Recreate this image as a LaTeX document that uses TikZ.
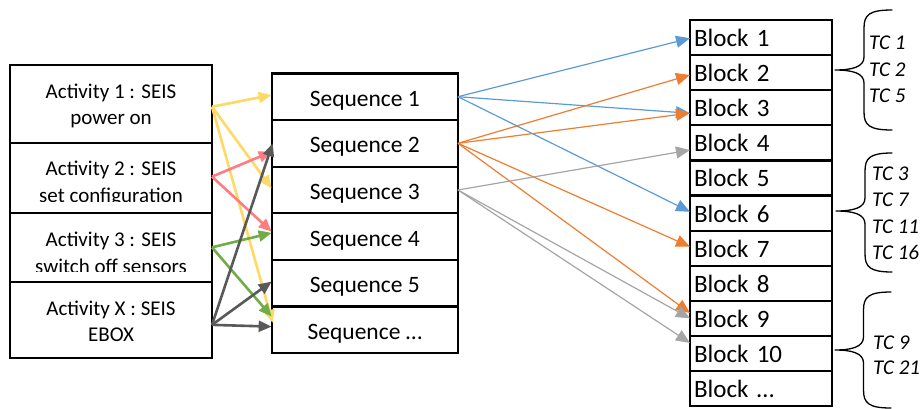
\documentclass[tikz,border=0pt]{standalone}
\usepackage{fontspec}
\setmainfont{Carlito}
\usetikzlibrary{arrows.meta,calc}
\definecolor{cyel}{HTML}{FFD966}
\definecolor{cred}{HTML}{FF7C80}
\definecolor{cgrn}{HTML}{70AD47}
\definecolor{cdgr}{HTML}{595959}
\definecolor{cblu}{HTML}{5B9BD5}
\definecolor{cora}{HTML}{ED7D31}
\definecolor{cgry}{HTML}{A5A5A5}
\newcommand{\mybrace}[6]{%
  \draw[bracestyle] (#1,#4) .. controls (#2+5,#4) and (#2,#4+5) .. (#2,#4+18)
    -- (#2,#5-13) .. controls (#2,#5-3) and (#2-12,#5) .. (#3,#5)
    .. controls (#2-12,#5) and (#2,#5+3) .. (#2,#5+13)
    -- (#2,#6-18) .. controls (#2,#6-5) and (#2+5,#6) .. (#1,#6);}
\tikzset{
  actbox/.style={draw, line width=2.2pt, minimum width=202pt, inner sep=0pt, outer sep=0pt},
  acttext/.style={align=center, font=\fontsize{21}{26.5}\selectfont, inner sep=0pt},
  seqbox/.style={draw, line width=2.2pt, minimum width=186.3pt, minimum height=46.6pt, inner sep=0pt, outer sep=0pt, text height=19pt, text depth=0pt, font=\fontsize{23.5}{26}\selectfont},
  blkbox/.style={draw, line width=2.2pt, minimum height=35.1pt, text width=134pt, align=left, inner xsep=4pt, inner ysep=0pt, outer sep=0pt, text height=18pt, text depth=0pt, font=\fontsize{25}{28}\selectfont},
  fatarrow/.style={line width=2.6pt, -{Triangle[length=13pt,width=11pt]}},
  thinarrow/.style={line width=1.2pt, -{Triangle[length=14pt,width=12pt]}},
  tclabel/.style={anchor=west, inner sep=0pt, font=\fontsize{21}{22}\selectfont\itshape},
  bracestyle/.style={line width=1.3pt, line cap=round, line join=round}
}
\begin{document}
\begin{tikzpicture}[x=1pt,y=-1pt]
\useasboundingbox (0,0) rectangle (920,408);
% Activity boxes
\node[actbox, minimum height=78pt] (a1) at (111,104) {};
\node[actbox, minimum height=70pt] (a2) at (111,177.85) {};
\node[actbox, minimum height=69pt] (a3) at (111,247.35) {};
\node[actbox, minimum height=76.3pt] (ax) at (111,319.85) {};
\node[acttext] (t1) at (111,106) {Activity 1 : SEIS\\power on};
\begin{scope}
\clip (12,145) rectangle (210,201.7);
\node[acttext] (t2) at (111,183.5) {Activity 2 : SEIS\\set configuration};
\end{scope}
\begin{scope}
\clip (12,215) rectangle (210,271.7);
\node[acttext] (t3) at (111,253) {Activity 3 : SEIS\\switch off sensors};
\end{scope}
\node[acttext] (tx) at (111,321.5) {Activity X : SEIS\\EBOX};
% Sequence boxes
\node[seqbox] (s1) at (364.8,96.7) {Sequence 1};
\node[seqbox] (s2) at (364.8,143.3) {Sequence 2};
\node[seqbox] (s3) at (364.8,190) {Sequence 3};
\node[seqbox] (s4) at (364.8,236.6) {Sequence 4};
\node[seqbox] (s5) at (364.8,283.2) {Sequence 5};
\node[seqbox] (s6) at (364.8,329.8) {Sequence \dots};
% Blocks
\foreach \i/\t in {1/1,2/2,3/3,4/4,5/5,6/6,7/7,8/8,9/9,10/10,11/\dots}{
  \node[blkbox] (b\i) at (761,{20+35.1*(\i-0.5)}) {Block \t};
}
% Thick arrows
\draw[fatarrow, cyel] ([yshift=-2.7pt]a1.east) -- ([yshift=1.7pt]s1.west);
\draw[fatarrow, cyel] ([yshift=-2.7pt]a1.east) -- ([yshift=1.7pt]s3.west);
\draw[fatarrow, cyel] ([yshift=-2.7pt]a1.east) -- ([yshift=7pt,xshift=1pt]s6.west);
\draw[fatarrow, cred] ([yshift=1.2pt]a2.east) -- ([yshift=-8.4pt]s2.west);
\draw[fatarrow, cred] ([yshift=1.2pt]a2.east) -- ([yshift=5pt]s4.west);
\draw[fatarrow, cgrn] (a3.east) -- ([yshift=3.7pt]s4.west);
\draw[fatarrow, cgrn] (a3.east) -- ([yshift=13.2pt]s6.west);
\draw[fatarrow, cdgr] ([yshift=-5pt]ax.east) -- ([xshift=1pt]s2.west);
\draw[fatarrow, cdgr] ([yshift=-5pt]ax.east) -- ([yshift=1.6pt]s5.west);
\draw[fatarrow, cdgr] ([yshift=-5pt]ax.east) -- ([yshift=3.2pt]s6.west);
% Thin arrows
\draw[thinarrow, cblu] (s1.east) -- ([yshift=-0.7pt]b1.west);
\draw[thinarrow, cblu] (s1.east) -- ([yshift=-5.5pt]b3.west);
\draw[thinarrow, cblu] (s1.east) -- ([yshift=1.3pt]b6.west);
\draw[thinarrow, cora] (s2.east) -- ([yshift=-2.3pt]b2.west);
\draw[thinarrow, cora] (s2.east) -- ([yshift=-5.3pt]b3.west);
\draw[thinarrow, cora] (s2.east) -- ([yshift=1.5pt]b7.west);
\draw[thinarrow, cora] (s2.east) -- ([yshift=5.3pt]b9.west);
\draw[thinarrow, cgry] (s3.east) -- ([yshift=-7.2pt]b4.west);
\draw[thinarrow, cgry] (s3.east) -- (b9.west);
\draw[thinarrow, cgry] (s3.east) -- ([yshift=10.5pt]b10.west);
% Braces
\mybrace{892}{864}{835}{10}{70}{130}
\mybrace{892}{865}{836}{153}{211}{272}
\mybrace{891}{863.5}{835}{292}{350}{408}
% TC labels
\node[tclabel] (tc1) at (869,43) {TC 1};
\node[tclabel] (tc2) at (869,70) {TC 2};
\node[tclabel] (tc5) at (869,96) {TC 5};
\node[tclabel] (tc3) at (872,174) {TC 3};
\node[tclabel] (tc7) at (872,200) {TC 7};
\node[tclabel] (tc11) at (872,227) {TC 11};
\node[tclabel] (tc16) at (872,252) {TC 16};
\node[tclabel] (tc9) at (873,343) {TC 9};
\node[tclabel] (tc21) at (873,368) {TC 21};
\end{tikzpicture}
\end{document}
